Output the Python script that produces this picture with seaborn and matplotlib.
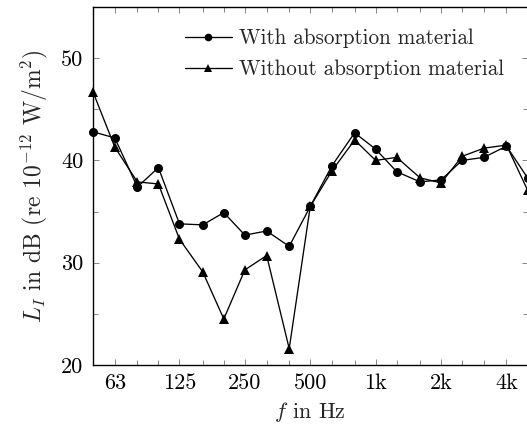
import matplotlib
matplotlib.use("Agg")
import matplotlib.pyplot as plt
import matplotlib.ticker as mticker
import seaborn as sns
import pandas as pd

freqs = [50, 63, 80, 100, 125, 160, 200, 250, 315, 400, 500, 630, 800,
         1000, 1250, 1600, 2000, 2500, 3150, 4000, 5000]
with_abs = [42.8, 42.2, 37.4, 39.3, 33.8, 33.7, 34.9, 32.7, 33.1, 31.6, 35.5,
            39.5, 42.7, 41.1, 38.9, 37.9, 38.1, 40.0, 40.3, 41.4, 38.3]
without_abs = [46.7, 41.3, 37.9, 37.7, 32.3, 29.1, 24.5, 29.3, 30.7, 21.6, 35.5,
               39.0, 42.0, 40.0, 40.3, 38.3, 37.8, 40.4, 41.2, 41.5, 37.1]
major_ticks = [63, 125, 250, 500, 1000, 2000, 4000]
major_labels = ["63", "125", "250", "500", "1k", "2k", "4k"]
series_names = ["With absorption material", "Without absorption material"]

sns.set_style("ticks")
plt.rcParams["font.family"] = ["serif"]
plt.rcParams["font.serif"] = ["cmr10", "DejaVu Serif"]
plt.rcParams["mathtext.fontset"] = "cm"
plt.rcParams["axes.unicode_minus"] = False

fig = plt.figure(figsize=(5.27, 4.34), dpi=100)
ax = fig.add_axes([93 / 527, 1 - 365 / 434, 1 - 93 / 527 + 0.001, (365 - 7) / 434])

df = pd.DataFrame({"f": freqs + freqs,
                   "L": with_abs + without_abs,
                   "s": [series_names[0]] * len(freqs) + [series_names[1]] * len(freqs)})

for name, mk, ms in [(series_names[0], "o", 6.5), (series_names[1], "^", 7.5)]:
    sub = df[df["s"] == name]
    sns.lineplot(data=sub, x="f", y="L", ax=ax, color="black", marker=mk,
                 markersize=ms, markeredgewidth=0, linewidth=0.95,
                 label=name, clip_on=False, zorder=3)

ax.set_xscale("log", base=2)
ax.set_xlim(50, 5000)
ax.set_ylim(20, 55)
ax.xaxis.set_major_locator(mticker.FixedLocator(major_ticks))
ax.xaxis.set_major_formatter(mticker.FixedFormatter(major_labels))
ax.xaxis.set_minor_locator(mticker.FixedLocator(freqs))
ax.xaxis.set_minor_formatter(mticker.NullFormatter())
ax.yaxis.set_major_locator(mticker.FixedLocator([20, 30, 40, 50]))
ax.yaxis.set_minor_locator(mticker.FixedLocator([25, 35, 45]))

ax.tick_params(axis="both", which="both", direction="in", top=True, right=True,
               color="0.45", width=0.6, labelsize=16, labelcolor="black")
ax.tick_params(axis="both", which="major", length=4.5)
ax.tick_params(axis="x", which="major", pad=6)
ax.tick_params(axis="y", which="major", pad=7)
ax.tick_params(axis="both", which="minor", length=3.5)
for sp in ax.spines.values():
    sp.set_linewidth(1.0)
    sp.set_color("black")

ax.set_xlabel("$f$ in Hz", fontsize=16, labelpad=5)
ax.set_ylabel("$L_I$ in dB (re $10^{-12}$ W$/$m$^2$)", fontsize=17, labelpad=8)

ax.legend(loc="upper left", bbox_to_anchor=(0.212, 0.94), frameon=False,
          fontsize=15.2, handlelength=2.2, handletextpad=0.35, labelspacing=0.55,
          borderpad=0, borderaxespad=0, markerscale=0.85)

fig.savefig("out.png", dpi=100)
